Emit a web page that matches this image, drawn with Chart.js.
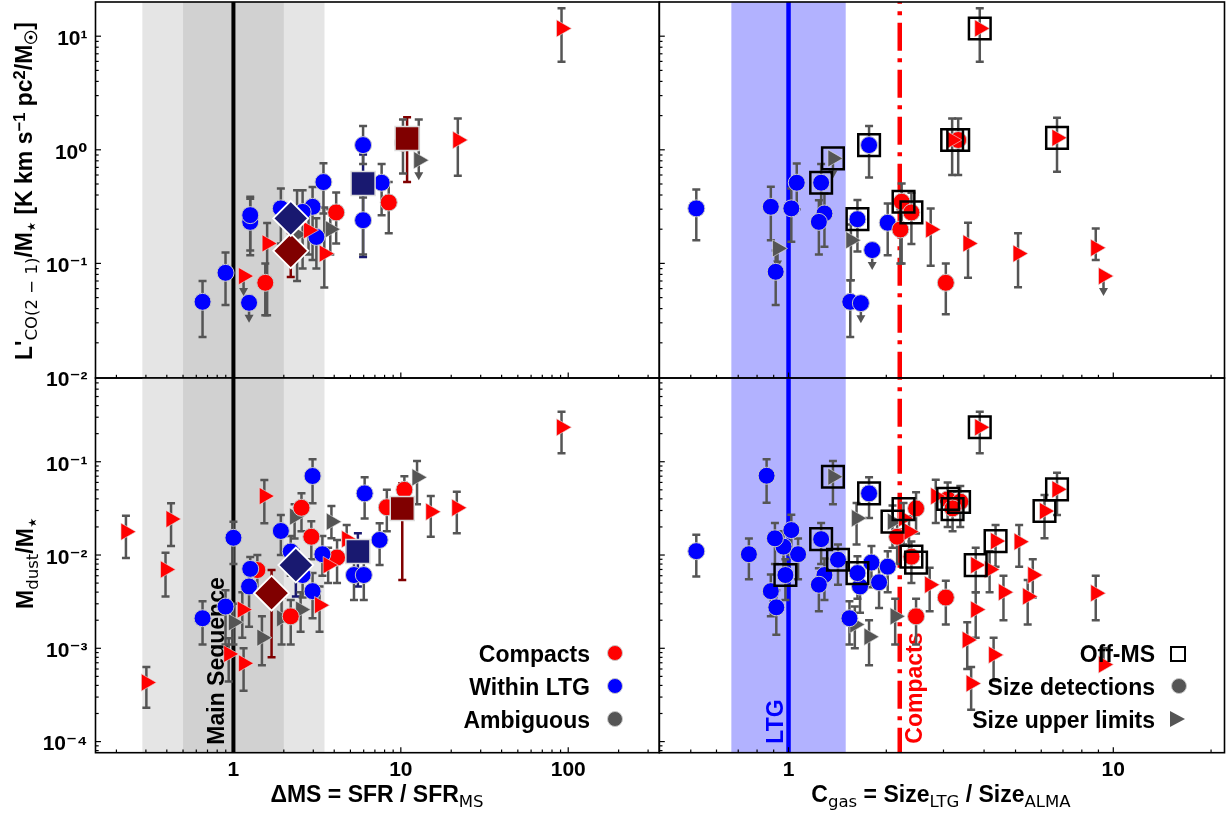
<!DOCTYPE html>
<html lang="en">
<head>
<meta charset="utf-8">
<title>Gas and dust fractions vs ΔMS and C_gas</title>
<script src="https://cdn.jsdelivr.net/npm/chart.js"></script>
<style>
  html, body { margin:0; padding:0; background:#fff; }
  #fig { position:relative; width:1226px; height:814px; overflow:hidden; background:#fff;
         font-family:"Liberation Sans", Arial, sans-serif; font-weight:bold; color:#000; }
  #fig canvas { position:absolute; left:0; top:0; }
  .lab { position:absolute; white-space:nowrap; font-size:23px; line-height:26px; }
  .rot { transform: translate(-50%,-50%) rotate(-90deg); }
  .ctr { transform: translate(-50%,-50%); }
  .sb { font-size:0.72em; position:relative; top:0.32em; }
  .sp { font-size:0.72em; position:relative; top:-0.45em; }
  .nb { font-weight:normal; font-family:"DejaVu Sans", sans-serif; }
  .leg { position:absolute; white-space:nowrap; font-size:23px; line-height:26px; text-align:right; }
  .mk { position:absolute; box-sizing:border-box; }
</style>
</head>
<body>
<div id="fig">
  <canvas id="cTL" width="1226" height="814"></canvas>
  <canvas id="cTR" width="1226" height="814"></canvas>
  <canvas id="cBL" width="1226" height="814"></canvas>
  <canvas id="cBR" width="1226" height="814"></canvas>

  <div class="lab rot" style="left:25px; top:191px;">L'<span class="sb nb">CO(2 − 1)</span>/M<span class="sb">⋆</span> [K km s<span class="sp">−1</span> pc<span class="sp">2</span>/M<span class="sb">☉</span>]</div>
  <div class="lab rot" style="left:26px; top:563px;">M<span class="sb nb">dust</span>/M<span class="sb">⋆</span></div>
  <div class="lab ctr" style="left:377px; top:795px;">ΔMS = SFR / SFR<span class="sb nb">MS</span></div>
  <div class="lab ctr" style="left:941px; top:795px;">C<span class="sb nb">gas</span> = Size<span class="sb nb">LTG</span> / Size<span class="sb nb">ALMA</span></div>

  <div class="leg" style="right:636px; top:641px;">Compacts</div>
  <div class="leg" style="right:636px; top:674px;">Within LTG</div>
  <div class="leg" style="right:636px; top:707px;">Ambiguous</div>
  <div class="mk" style="left:607px; top:645px; width:16px; height:16px; border-radius:50%; background:#ff0000; border:1px solid #c8c8c8;"></div>
  <div class="mk" style="left:607px; top:678px; width:16px; height:16px; border-radius:50%; background:#0000ff; border:1px solid #c8c8c8;"></div>
  <div class="mk" style="left:607px; top:711px; width:16px; height:16px; border-radius:50%; background:#555555; border:1px solid #c8c8c8;"></div>

  <div class="leg" style="right:71px; top:641px;">Off-MS</div>
  <div class="leg" style="right:71px; top:674px;">Size detections</div>
  <div class="leg" style="right:71px; top:707px;">Size upper limits</div>
  <div class="mk" style="left:1170px; top:646px; width:16px; height:16px; border:2.5px solid #000;"></div>
  <div class="mk" style="left:1171px; top:678px; width:16px; height:16px; border-radius:50%; background:#555555; border:1px solid #c8c8c8;"></div>
  <div class="mk" style="left:1170px; top:711px; width:0; height:0; border-top:8.5px solid transparent; border-bottom:8.5px solid transparent; border-left:15px solid #555555;"></div>
</div>

<script>
// ---------------- axis ranges ----------------
const X_DMS = [0.15, 350];      // ΔMS = SFR / SFR_MS
const X_CGAS = [0.4, 22];       // C_gas = Size_LTG / Size_ALMA
const Y_CO = [0.0098, 20];      // L'CO(2-1)/M*
const Y_DUST = [7.6e-5, 0.79];  // Mdust/M*

// reference bands / lines
const MS_BAND_WIDE = [1 / 3.5, 3.5];
const MS_BAND = [0.5, 2];
const MS_LINE = 1;
const LTG_BAND = [1 / 1.5, 1.5];
const LTG_LINE = 1;
const COMPACT_LINE = 2.2;

// ---------------- data: [x, y, yLow, yHigh, upperLimitArrow] ----------------
// Top-left: ΔMS vs L'CO/M*
const TL_CMP_DET = [
  [4.11, 0.281, 0.15, 0.42], [8.47, 0.344, 0.184, 0.52], [1.55, 0.0675, 0.035, 0.0996],
  [10.3, 1.15, 0.62, 1.85]
];
const TL_CMP_UL = [
  [91.2, 11.7, 5.96, 17.6], [21.9, 1.22, 0.59, 1.89], [3.49, 0.122, 0.0615, 0.31],
  [1.59, 0.15, 0.035, 0.227], [1.15, 0.0773, null, null, 1], [2.81, 0.196, 0.12, 0.3]
];
const TL_LTG_DET = [
  [5.95, 1.10, 0.75, 1.62], [5.95, 0.24, 0.12, 0.38], [7.68, 0.513, 0.266, 0.75],
  [3.45, 0.52, 0.275, 0.76], [2.97, 0.315, 0.107, 0.47], [3.13, 0.171, 0.09, 0.25],
  [1.92, 0.305, 0.15, 0.457], [2.59, 0.284, 0.09, 0.44], [1.26, 0.232, 0.118, 0.386],
  [1.26, 0.266, 0.13, 0.37], [1.24, 0.045, null, null, 1], [0.897, 0.0826, 0.043, 0.125],
  [0.654, 0.0459, 0.0225, 0.07]
];
const TL_AMB_UL = [
  [12.8, 0.81, null, 1.85, 1], [3.79, 0.2, 0.12, 0.3], [2.4, 0.18, 0.07, 0.44]
];
const TL_LTG_MED = [[2.2, 0.249, 0.2, 0.3]];
const TL_CMP_MED = [[2.2, 0.129, 0.076, 0.185]];
const TL_LTG_OFF = [[5.95, 0.506, 0.114, 0.91]];
const TL_CMP_OFF = [[10.9, 1.26, 0.52, 1.93]];

// Top-right: C_gas vs L'CO/M*
const TR_LTG_DET = [
  [0.52, 0.305, 0.16, 0.448], [0.882, 0.315, 0.16, 0.472], [0.913, 0.0843, 0.043, 0.13],
  [1.02, 0.305, 0.155, 0.457], [1.06, 0.513, 0.3, 0.759], [1.26, 0.513, 0.3, 0.75],
  [1.29, 0.275, 0.14, 0.413], [1.24, 0.232, 0.12, 0.36], [1.549, 0.0459, 0.0225, 0.071],
  [1.67, 0.0447, null, null, 1], [1.63, 0.245, 0.127, 0.361], [1.77, 1.10, 0.571, 1.62],
  [1.81, 0.131, null, null, 1], [2.02, 0.228, 0.118, 0.337]
];
const TR_AMB_UL = [
  [0.925, 0.1355, null, null, 1], [1.37, 0.84, null, null, 1], [1.556, 0.16, 0.071, 0.22]
];
const TR_CMP_DET = [
  [2.23, 0.349, 0.1, 0.506], [2.21, 0.199, 0.1, 0.3], [2.39, 0.281, 0.148, 0.418],
  [3.05, 0.0675, 0.0356, 0.0996], [3.33, 1.22, 0.6, 1.89]
];
const TR_CMP_UL = [
  [2.74, 0.199, 0.0954, 0.305], [3.57, 0.15, 0.0747, 0.228], [3.19, 1.22, 0.6, 1.89],
  [3.88, 11.7, 5.96, 17.6], [5.09, 0.122, 0.0617, 0.184], [6.71, 1.275, 0.64, 1.91],
  [8.83, 0.137, 0.107, 0.203], [9.33, 0.0773, null, null, 1]
];
const TR_OFFMS = [
  [1.26, 0.513], [1.37, 0.84], [1.63, 0.245], [1.77, 1.10], [2.26, 0.349],
  [2.39, 0.281], [3.19, 1.22], [3.33, 1.22], [3.88, 11.7], [6.71, 1.275]
];

// Bottom-left: ΔMS vs Mdust/M*
const BL_CMP_UL = [
  [91.2, 0.234, 0.123, 0.343], [21.6, 0.0321, 0.0171, 0.0477], [15.1, 0.0291, 0.0157, 0.0429],
  [3.68, 0.0078, 0.005, 0.012], [3.27, 0.0029, 0.0015, 0.0046], [1.53, 0.0428, 0.0219, 0.0636],
  [1.13, 0.0026, 0.0013, 0.004], [0.937, 0.00087, 0.00044, 0.00128], [1.15, 0.00069, 0.00035, 0.001],
  [0.302, 0.00043, 0.00023, 0.00063], [0.228, 0.0178, 0.0093, 0.0263], [0.424, 0.0243, 0.0125, 0.0358],
  [0.393, 0.0070, 0.0036, 0.0106], [4.75, 0.0148, 0.009, 0.021]
];
const BL_CMP_DET = [
  [8.25, 0.0325, 0.018, 0.05], [10.5, 0.05, 0.03, 0.07], [4.16, 0.0094, 0.005, 0.0145],
  [2.92, 0.0157, 0.009, 0.023], [2.55, 0.0321, 0.018, 0.046], [2.2, 0.0022, 0.0011, 0.0033],
  [1.39, 0.0069, 0.004, 0.01]
];
const BL_LTG_DET = [
  [7.47, 0.0145, 0.0078, 0.0219], [6.08, 0.0458, 0.0247, 0.068], [5.25, 0.0061, 0.0033, 0.0096],
  [6.01, 0.0061, 0.0033, 0.0096], [3.4, 0.0102, 0.006, 0.016], [2.97, 0.0041, 0.0021, 0.0064],
  [2.97, 0.0703, 0.0358, 0.106], [1.92, 0.0181, 0.01, 0.0268], [2.2, 0.0109, 0.006, 0.016],
  [2.59, 0.0061, 0.0035, 0.009], [1.24, 0.0046, 0.0017, 0.0069], [1.26, 0.0071, 0.004, 0.0095],
  [0.897, 0.0028, 0.0011, 0.0042], [0.654, 0.0021, 0.0011, 0.0032], [1.0, 0.0153, 0.008, 0.0228]
];
const BL_AMB_UL = [
  [12.5, 0.068, 0.035, 0.102], [3.85, 0.0228, 0.0151, 0.0335], [2.32, 0.0258, 0.015, 0.035],
  [2.52, 0.0026, 0.0015, 0.004], [1.94, 0.0021, 0.0011, 0.0035], [1.48, 0.0013, 0.00066, 0.0022],
  [1.0, 0.0019, 0.0011, 0.003]
];
const BL_LTG_MED = [[2.36, 0.0078, 0.0036, 0.0113]];
const BL_CMP_MED = [[1.69, 0.0039, 0.0008, 0.0069]];
const BL_LTG_OFF = [[5.54, 0.0109, 0.0046, 0.0171]];
const BL_CMP_OFF = [[10.2, 0.0316, 0.0054, 0.0587]];

// Bottom-right: C_gas vs Mdust/M*
const BR_LTG_DET = [
  [0.856, 0.0708, 0.0364, 0.106], [1.77, 0.0458, 0.025, 0.068], [1.54, 0.0021, 0.0011, 0.0032],
  [2.02, 0.0075, 0.004, 0.011], [1.90, 0.0051, 0.0027, 0.0077], [1.66, 0.0046, 0.0024, 0.007],
  [1.63, 0.0064, 0.0034, 0.0097], [1.8, 0.0083, 0.0045, 0.0125], [1.42, 0.0089, 0.0048, 0.013],
  [1.29, 0.0061, 0.0033, 0.0092], [1.24, 0.0048, 0.0025, 0.0072], [1.26, 0.0148, 0.008, 0.022],
  [1.07, 0.0102, 0.0055, 0.015], [1.02, 0.0185, 0.01, 0.027], [0.965, 0.0123, 0.0065, 0.018],
  [0.978, 0.0061, 0.0033, 0.009], [0.908, 0.0151, 0.008, 0.022], [0.882, 0.0041, 0.0022, 0.0062],
  [0.917, 0.00275, 0.0014, 0.0042], [0.755, 0.0102, 0.0055, 0.015], [0.52, 0.011, 0.0059, 0.0165]
];
const BR_AMB_UL = [
  [1.37, 0.069, 0.035, 0.102], [2.09, 0.0228, 0.012, 0.034], [1.62, 0.0248, 0.013, 0.036],
  [2.13, 0.0022, 0.0011, 0.0034], [1.77, 0.00133, 0.00066, 0.002], [1.6, 0.0018, 0.001, 0.0028]
];
const BR_CMP_DET = [
  [3.09, 0.0395, 0.02, 0.06], [3.38, 0.0373, 0.02, 0.055], [3.2, 0.0316, 0.018, 0.048],
  [3.05, 0.0035, 0.0018, 0.0053], [2.47, 0.0022, 0.0011, 0.0034], [2.47, 0.0316, 0.017, 0.047],
  [2.16, 0.0157, 0.008, 0.023], [2.39, 0.0096, 0.005, 0.014]
];
const BR_CMP_UL = [
  [3.88, 0.234, 0.123, 0.343], [6.71, 0.0506, 0.0268, 0.0762], [6.14, 0.0296, 0.0151, 0.0439],
  [2.84, 0.0428, 0.022, 0.064], [4.34, 0.0141, 0.0075, 0.021], [5.13, 0.0139, 0.0075, 0.021],
  [5.65, 0.0061, 0.0035, 0.009], [5.45, 0.0036, 0.0018, 0.0054], [4.59, 0.004, 0.002, 0.006],
  [8.83, 0.0039, 0.002, 0.006], [9.33, 0.00067, null, 0.001], [3.77, 0.0078, 0.004, 0.012],
  [4.16, 0.007, 0.004, 0.011], [3.77, 0.0026, 0.0013, 0.004], [3.55, 0.00123, 0.0006, 0.0019],
  [4.28, 0.00085, 0.00045, 0.0013], [3.65, 0.00042, 0.00022, 0.00063], [2.72, 0.0048, 0.0025, 0.0073],
  [2.26, 0.0248, 0.013, 0.036], [2.35, 0.0178, 0.01, 0.026]
];
const BR_OFFMS = [
  [3.88, 0.234], [6.71, 0.0506], [6.14, 0.0296], [4.34, 0.0141], [3.77, 0.0078],
  [3.1, 0.04], [3.35, 0.037], [3.2, 0.031], [2.39, 0.0096], [2.47, 0.0083],
  [2.09, 0.0228], [2.26, 0.031], [1.37, 0.069], [1.77, 0.0458], [1.26, 0.0148],
  [1.42, 0.0089], [1.63, 0.0064], [0.978, 0.0061]
];

// ---------------- layout ----------------
const W = 1226, H = 814;
const XL = 95.5, XM = 659.3, XR = 1224.5, YT = 2, YM = 378, YB = 752.7;
const Y_AXIS_W = 90, X_AXIS_H = 36;
const FONT = '"Liberation Sans", Arial, "DejaVu Sans", sans-serif';

const C_RED = '#ff0000', C_BLUE = '#0000ff', C_AMB = '#555555', C_ERR = '#555555';
const C_NAVY = '#191970', C_MAROON = '#800000';

function decadeTicks(min, max) {
  const out = [];
  for (let e = Math.floor(Math.log10(min)); e <= Math.ceil(Math.log10(max)); e++) {
    for (let k = 1; k <= 9; k++) {
      const v = +(k * Math.pow(10, e)).toPrecision(6);
      if (v >= min * 0.9999 && v <= max * 1.0001) out.push(v);
    }
  }
  return out;
}
function isPow10(v) { const l = Math.log10(v); return Math.abs(l - Math.round(l)) < 1e-6; }
const SUP = { '-': '⁻', '0': '⁰', '1': '¹', '2': '²', '3': '³', '4': '⁴', '5': '⁵' };
function yLabel(v) {
  if (!isPow10(v)) return '';
  const e = Math.round(Math.log10(v));
  return '10' + String(e).split('').map(c => SUP[c]).join('');
}
function xLabel(v) {
  if (!isPow10(v)) return '';
  const e = Math.round(Math.log10(v));
  return e >= 0 ? String(Math.round(v)) : String(v);
}

const STYLES = {
  cmpDet: { ps: 'circle', r: 8.5, rot: 0, bg: C_RED, bc: '#c8c8c8', bw: 1, err: C_ERR },
  ltgDet: { ps: 'circle', r: 8.5, rot: 0, bg: C_BLUE, bc: '#c8c8c8', bw: 1, err: C_ERR },
  cmpUL:  { ps: 'triangle', r: 10, rot: 90, bg: C_RED, bc: '#e6e6e6', bw: 0.6, err: C_ERR },
  ambUL:  { ps: 'triangle', r: 10, rot: 90, bg: C_AMB, bc: '#e6e6e6', bw: 0.6, err: C_ERR },
  ltgMed: { ps: 'rectRot', r: 17.5, rot: 0, bg: C_NAVY, bc: '#ffffff', bw: 1.8, err: C_NAVY },
  cmpMed: { ps: 'rectRot', r: 17.5, rot: 0, bg: C_MAROON, bc: '#ffffff', bw: 1.8, err: C_MAROON },
  ltgOff: { ps: 'rect', r: 17, rot: 0, bg: C_NAVY, bc: '#dddddd', bw: 1.5, err: C_NAVY },
  cmpOff: { ps: 'rect', r: 17, rot: 0, bg: C_MAROON, bc: '#dddddd', bw: 1.5, err: C_MAROON },
  offMS:  { ps: 'rect', r: 15.3, rot: 0, bg: 'rgba(0,0,0,0)', bc: '#000000', bw: 2.5, err: null }
};

function ds(label, arr, s, order) {
  return {
    label,
    data: arr.map(a => ({ x: a[0], y: a[1], lo: a[2] ?? null, hi: a[3] ?? null, ul: a[4] || 0 })),
    pointStyle: s.ps, pointRadius: s.r, pointHoverRadius: s.r, pointRotation: s.rot,
    pointBackgroundColor: s.bg, pointBorderColor: s.bc, pointBorderWidth: s.bw,
    pointHoverBorderWidth: s.bw, showLine: false, errColor: s.err, order
  };
}

function decoPlugin(kind, withText) {
  return {
    id: 'deco',
    beforeDatasetsDraw(chart) {
      const { ctx, chartArea: a, scales: { x, y } } = chart;
      ctx.save();
      ctx.beginPath(); ctx.rect(a.left, a.top, a.right - a.left, a.bottom - a.top); ctx.clip();
      const band = (r, col) => {
        const x1 = x.getPixelForValue(r[0]), x2 = x.getPixelForValue(r[1]);
        ctx.fillStyle = col; ctx.fillRect(x1, a.top, x2 - x1, a.bottom - a.top);
      };
      const vline = (v, col, lw, dash, start) => {
        const px = x.getPixelForValue(v);
        ctx.strokeStyle = col; ctx.lineWidth = lw; ctx.setLineDash(dash); ctx.lineCap = 'butt';
        ctx.beginPath(); ctx.moveTo(px, start); ctx.lineTo(px, a.bottom); ctx.stroke();
        ctx.setLineDash([]);
      };
      const rtext = (txt, baseX, startY, col) => {
        ctx.save();
        ctx.translate(baseX, startY); ctx.rotate(-Math.PI / 2);
        ctx.fillStyle = col; ctx.font = 'bold 23px ' + FONT;
        ctx.textAlign = 'left'; ctx.textBaseline = 'alphabetic';
        ctx.fillText(txt, 0, 0);
        ctx.restore();
      };
      if (kind === 'dms') {
        band(MS_BAND_WIDE, '#e5e5e5');
        band(MS_BAND, '#d1d1d1');
        vline(MS_LINE, '#000000', 4, [], a.top);
        if (withText) rtext('Main Sequence', x.getPixelForValue(MS_LINE) - 9, a.bottom - 8, '#000000');
      } else {
        band(LTG_BAND, 'rgba(0,0,255,0.3)');
        vline(LTG_LINE, '#0000ff', 4.5, [], a.top);
        vline(COMPACT_LINE, '#ff0000', 4.5, [28, 7.5, 4, 7.5], a.top - 26.3);
        if (withText) {
          rtext('LTG', x.getPixelForValue(LTG_LINE) - 6, a.bottom - 9, '#0000ff');
          rtext('Compacts', x.getPixelForValue(COMPACT_LINE) + 22, a.bottom - 9, '#ff0000');
        }
      }
      // error bars and upper-limit arrows
      chart.data.datasets.forEach(d => {
        if (!d.errColor) return;
        ctx.strokeStyle = d.errColor; ctx.fillStyle = d.errColor; ctx.lineWidth = 2.5; ctx.lineCap = 'butt';
        d.data.forEach(p => {
          const px = x.getPixelForValue(p.x), py = y.getPixelForValue(p.y);
          const cap = (yy) => { ctx.beginPath(); ctx.moveTo(px - 4, yy); ctx.lineTo(px + 4, yy); ctx.stroke(); };
          if (p.hi != null || p.lo != null) {
            const y1 = p.hi != null ? y.getPixelForValue(p.hi) : py;
            const y2 = p.lo != null ? y.getPixelForValue(p.lo) : py;
            ctx.beginPath(); ctx.moveTo(px, y1); ctx.lineTo(px, y2); ctx.stroke();
            if (p.hi != null) cap(y1);
            if (p.lo != null) cap(y2);
          }
          if (p.ul) {
            ctx.beginPath(); ctx.moveTo(px, py); ctx.lineTo(px, py + 14); ctx.stroke();
            ctx.beginPath(); ctx.moveTo(px - 4.5, py + 12); ctx.lineTo(px + 4.5, py + 12); ctx.lineTo(px, py + 20); ctx.closePath(); ctx.fill();
          }
        });
      });
      ctx.restore();
    },
    afterDraw(chart) {
      const { ctx, chartArea: a, scales: { x, y } } = chart;
      ctx.save();
      ctx.strokeStyle = '#000'; ctx.lineWidth = 1.2;
      x.ticks.forEach(t => {
        const px = x.getPixelForValue(t.value);
        if (px < a.left + 1 || px > a.right - 1) return;
        const L = isPow10(t.value) ? 5.5 : 3.2;
        ctx.beginPath(); ctx.moveTo(px, a.bottom); ctx.lineTo(px, a.bottom - L); ctx.stroke();
      });
      y.ticks.forEach(t => {
        const py = y.getPixelForValue(t.value);
        if (py < a.top + 1 || py > a.bottom - 1) return;
        const L = isPow10(t.value) ? 5.5 : 3.2;
        ctx.beginPath(); ctx.moveTo(a.left, py); ctx.lineTo(a.left + L, py); ctx.stroke();
      });
      ctx.lineWidth = 1.6;
      ctx.strokeRect(a.left, a.top, a.right - a.left, a.bottom - a.top);
      ctx.restore();
    }
  };
}

function makePanel(id, rect, xr, yr, kind, showXL, showYL, withText, datasets) {
  const xt = decadeTicks(xr[0], xr[1]), yt = decadeTicks(yr[0], yr[1]);
  const zeroPad = s => { s.paddingLeft = 0; s.paddingRight = 0; s.paddingTop = 0; s.paddingBottom = 0; };
  const xh = showXL ? X_AXIS_H : 0, yw = showYL ? Y_AXIS_W : 0;
  return new Chart(document.getElementById(id), {
    type: 'scatter',
    data: { datasets },
    options: {
      responsive: false, animation: false, events: [],
      layout: { autoPadding: false, padding: { left: rect.l - yw, top: rect.t, right: W - rect.r, bottom: H - rect.b - xh } },
      plugins: { legend: { display: false }, tooltip: { enabled: false } },
      scales: {
        x: {
          type: 'logarithmic', position: 'bottom', min: xr[0], max: xr[1],
          grid: { display: false, drawTicks: false }, border: { display: false },
          afterBuildTicks: s => { s.ticks = xt.map(v => ({ value: v })); },
          afterFit: s => { s.height = xh; zeroPad(s); },
          ticks: {
            display: showXL, autoSkip: false, maxRotation: 0, minRotation: 0, padding: 5,
            color: '#000', font: { family: FONT, size: 21, weight: 'bold' }, callback: v => xLabel(v)
          }
        },
        y: {
          type: 'logarithmic', position: 'left', min: yr[0], max: yr[1],
          grid: { display: false, drawTicks: false }, border: { display: false },
          afterBuildTicks: s => { s.ticks = yt.map(v => ({ value: v })); },
          afterFit: s => { s.width = yw; zeroPad(s); },
          ticks: {
            display: showYL, autoSkip: false, padding: 8, labelOffset: 3,
            color: '#000', font: { family: FONT, size: 21, weight: 'bold' }, callback: v => yLabel(v)
          }
        }
      }
    },
    plugins: [decoPlugin(kind, withText)]
  });
}

makePanel('cTL', { l: XL, r: XM, t: YT, b: YM }, X_DMS, Y_CO, 'dms', false, true, false, [
  ds('Compacts median (off-MS)', TL_CMP_OFF, STYLES.cmpOff, 0),
  ds('Within LTG median (off-MS)', TL_LTG_OFF, STYLES.ltgOff, 0),
  ds('Within LTG median', TL_LTG_MED, STYLES.ltgMed, 1),
  ds('Compacts median', TL_CMP_MED, STYLES.cmpMed, 1),
  ds('Compacts, size upper limits', TL_CMP_UL, STYLES.cmpUL, 3),
  ds('Ambiguous, size upper limits', TL_AMB_UL, STYLES.ambUL, 5),
  ds('Compacts, size detections', TL_CMP_DET, STYLES.cmpDet, 4),
  ds('Within LTG, size detections', TL_LTG_DET, STYLES.ltgDet, 4)
]);

makePanel('cTR', { l: XM, r: XR, t: YT, b: YM }, X_CGAS, Y_CO, 'cgas', false, false, false, [
  ds('Off-MS', TR_OFFMS, STYLES.offMS, 0),
  ds('Compacts, size upper limits', TR_CMP_UL, STYLES.cmpUL, 2),
  ds('Compacts, size detections', TR_CMP_DET, STYLES.cmpDet, 3),
  ds('Within LTG, size detections', TR_LTG_DET, STYLES.ltgDet, 3),
  ds('Ambiguous, size upper limits', TR_AMB_UL, STYLES.ambUL, 4)
]);

makePanel('cBL', { l: XL, r: XM, t: YM, b: YB }, X_DMS, Y_DUST, 'dms', true, true, true, [
  ds('Compacts median (off-MS)', BL_CMP_OFF, STYLES.cmpOff, 0),
  ds('Within LTG median (off-MS)', BL_LTG_OFF, STYLES.ltgOff, 0),
  ds('Within LTG median', BL_LTG_MED, STYLES.ltgMed, 1),
  ds('Compacts median', BL_CMP_MED, STYLES.cmpMed, 1),
  ds('Compacts, size upper limits', BL_CMP_UL, STYLES.cmpUL, 3),
  ds('Within LTG, size detections', BL_LTG_DET, STYLES.ltgDet, 4),
  ds('Compacts, size detections', BL_CMP_DET, STYLES.cmpDet, 4),
  ds('Ambiguous, size upper limits', BL_AMB_UL, STYLES.ambUL, 5)
]);

makePanel('cBR', { l: XM, r: XR, t: YM, b: YB }, X_CGAS, Y_DUST, 'cgas', true, false, true, [
  ds('Off-MS', BR_OFFMS, STYLES.offMS, 0),
  ds('Compacts, size upper limits', BR_CMP_UL, STYLES.cmpUL, 2),
  ds('Compacts, size detections', BR_CMP_DET, STYLES.cmpDet, 3),
  ds('Within LTG, size detections', BR_LTG_DET, STYLES.ltgDet, 3),
  ds('Ambiguous, size upper limits', BR_AMB_UL, STYLES.ambUL, 4)
]);
</script>
</body>
</html>
